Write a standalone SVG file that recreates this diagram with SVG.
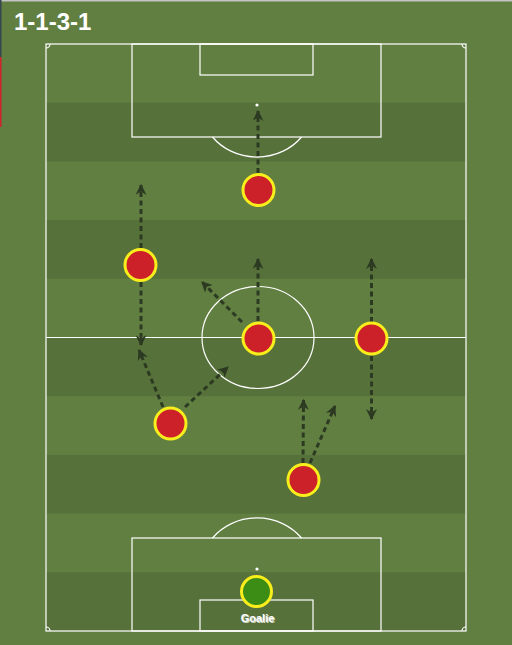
<svg xmlns="http://www.w3.org/2000/svg" width="512" height="645" viewBox="0 0 512 645">
<defs>
<style>
.line{fill:none;stroke:#ffffff;stroke-width:1.2}
.arr{fill:none;stroke:#2c3a22;stroke-width:3;stroke-dasharray:5 3.5;marker-end:url(#ah)}
.pl{fill:#cd212a;stroke:#f7ee1c;stroke-width:3}
.gk{fill:#3b8d15;stroke:#f7ee1c;stroke-width:3}
.title{font-family:"Liberation Sans",Arial,sans-serif;font-weight:bold;font-size:24px;fill:#ffffff}
.lbl{font-family:"Liberation Sans",Arial,sans-serif;font-weight:bold;font-size:11px;fill:#ffffff}
</style>
<marker id="ah" viewBox="0 0 10 10" refX="9" refY="5" markerWidth="11" markerHeight="11" markerUnits="userSpaceOnUse" orient="auto">
<path d="M0,0 L10,5 L0,10 L3,5 Z" fill="#2c3a22"/>
</marker>
</defs>
<rect x="0" y="0" width="512" height="645" fill="#627f42"/>
<rect x="0" y="0" width="512" height="1.5" fill="#c4c4c4"/>
<rect x="0" y="0" width="1.5" height="57" fill="#37474f"/>
<rect x="0" y="57" width="1.5" height="70" fill="#d0232b"/>
<g id="field">
<rect x="46" y="102.7" width="420" height="58.7" fill="#57713a"/>
<rect x="46" y="220.1" width="420" height="58.7" fill="#57713a"/>
<rect x="46" y="337.5" width="420" height="58.7" fill="#57713a"/>
<rect x="46" y="454.9" width="420" height="58.7" fill="#57713a"/>
<rect x="46" y="572.3" width="420" height="58.7" fill="#57713a"/>
<rect class="line" x="46" y="44" width="420" height="587" stroke="#e4e8de"/>
<line class="line" x1="46" y1="337.5" x2="466" y2="337.5"/>
<ellipse class="line" cx="258" cy="337.5" rx="56" ry="51"/>
<rect class="line" x="132" y="44" width="249" height="93"/>
<rect class="line" x="200" y="44" width="113" height="31"/>
<path class="line" d="M212.5,137 A56,51 0 0 0 301.5,137"/>
<circle cx="257" cy="105" r="1.6" fill="#ffffff"/>
<rect class="line" x="132" y="538" width="249" height="93"/>
<rect class="line" x="200" y="600" width="113" height="31"/>
<path class="line" d="M212.5,538 A56,51 0 0 1 301.5,538"/>
<circle cx="257" cy="569" r="1.6" fill="#ffffff"/>
<path class="line" d="M46,48 A4,4 0 0 0 50,44 M462,44 A4,4 0 0 0 466,48 M46,627 A4,4 0 0 1 50,631 M462,631 A4,4 0 0 1 466,627"/>
</g>
<text class="title" x="14" y="30">1-1-3-1</text>
<g id="connectors">
<line class="arr" x1="258" y1="173" x2="258" y2="111"/>
<line class="arr" x1="141" y1="248" x2="141" y2="185"/>
<line class="arr" x1="141" y1="282" x2="141" y2="345"/>
<line class="arr" x1="163" y1="407" x2="139" y2="350"/>
<line class="arr" x1="185" y1="407" x2="228" y2="367"/>
<line class="arr" x1="242" y1="322" x2="202" y2="282"/>
<line class="arr" x1="258" y1="321" x2="258" y2="259"/>
<line class="arr" x1="371.5" y1="322" x2="371.5" y2="259"/>
<line class="arr" x1="371.5" y1="356" x2="371.5" y2="419"/>
<line class="arr" x1="303" y1="463" x2="303.5" y2="400"/>
<line class="arr" x1="310" y1="463" x2="335" y2="406"/>
</g>
<g id="p1"><circle class="pl" cx="258.5" cy="190" r="15.5"/></g>
<g id="p2"><circle class="pl" cx="140.5" cy="265" r="15.5"/></g>
<g id="p3"><circle class="pl" cx="258.5" cy="338.5" r="15.5"/></g>
<g id="p4"><circle class="pl" cx="371.5" cy="338.5" r="15.5"/></g>
<g id="p5"><circle class="pl" cx="170.5" cy="423.5" r="15.5"/></g>
<g id="p6"><circle class="pl" cx="303.5" cy="480" r="15.5"/></g>
<g id="goalie">
<circle class="gk" cx="256.5" cy="591.5" r="15"/>
<text class="lbl" x="257.5" y="622" text-anchor="middle" fill="#222" opacity="0.7" transform="translate(1,1)">Goalie</text>
<text class="lbl" x="257.5" y="622" text-anchor="middle">Goalie</text>
</g>
</svg>
